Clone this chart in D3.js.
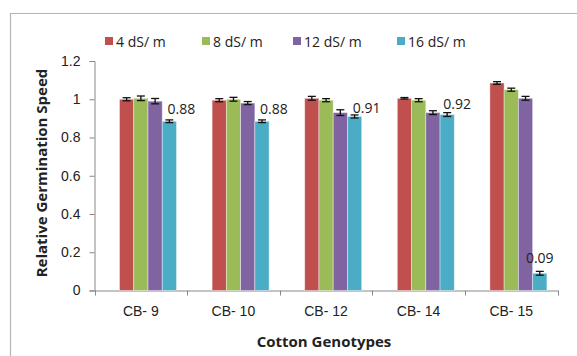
<!DOCTYPE html>
<html>
<head>
<meta charset="utf-8">
<script src="https://cdn.jsdelivr.net/npm/d3@7"></script>
<style>
  body { margin: 0; background: #fff; }
  svg { display: block; font-family: "Open Sans", sans-serif; }
  .axis path, .axis line { stroke: #888; }
  .axis text { font-size: 14px; fill: #222; }
</style>
</head>
<body>
<script>
(function(){

    //chart data
    var genotypes = ["CB- 9", "CB- 10", "CB- 12", "CB- 14", "CB- 15"];
    var salinity = ["4 dS/ m", "8 dS/ m", "12 dS/ m", "16 dS/ m"];
    var ds4  = [1.0, 0.995, 1.005, 1.005, 1.085];
    var ds8  = [1.005, 1.0, 0.995, 0.995, 1.05];
    var ds12 = [0.99, 0.98, 0.93, 0.93, 1.005];
    var ds16 = [0.885, 0.885, 0.91, 0.92, 0.09];
    //error bar half widths
    var err4  = [0.008, 0.008, 0.01, 0.004, 0.007];
    var err8  = [0.012, 0.01, 0.008, 0.008, 0.008];
    var err12 = [0.014, 0.008, 0.015, 0.01, 0.01];
    var err16 = [0.007, 0.007, 0.008, 0.01, 0.01];
    //data labels on the 16 dS/m bars
    var labels16 = ["0.88", "0.88", "0.91", "0.92", "0.09"];
    var yTicks = [0, 0.2, 0.4, 0.6, 0.8, 1, 1.2];

    var colors = ["#C0504D", "#9BBB59", "#8064A2", "#4BACC6"];
    var seriesVals = [ds4, ds8, ds12, ds16];
    var seriesErr = [err4, err8, err12, err16];

    var width = 577, height = 356;

    var svg = d3.select("body").append("svg")
        .attr("width", width)
        .attr("height", height);

    //outer chart frame (cropped on right and bottom)
    svg.append("path")
        .attr("d", "M10.5," + (height + 2) + "V13.5H" + (width + 2))
        .attr("fill", "none")
        .attr("stroke", "#b5b5b5")
        .attr("stroke-width", 1.2);

    var x = d3.scaleBand().domain(genotypes).range([94.5, 557.5]);
    //bars sit off-centre inside each category, as in the original
    var xs = d3.scaleBand().domain(salinity).range([25, 82]);
    var y = d3.scaleLinear().domain([0, 1.2]).range([290.5, 61]);

    //y axis
    svg.append("g")
        .attr("class", "axis")
        .attr("transform", "translate(94.5,0)")
        .call(d3.axisLeft(y).tickValues(yTicks).tickSize(5).tickPadding(9)
            .tickFormat(function(d){ return d3.format("")(d); }));

    //x axis line and category boundary ticks
    var xAxis = svg.append("g")
        .attr("class", "axis")
        .attr("transform", "translate(0,290.5)")
        .call(d3.axisBottom(x).tickSize(0).tickPadding(16));
    var bounds = genotypes.map(function(g){ return x(g); }).concat([x.range()[1]]);
    xAxis.selectAll(".bound")
        .data(bounds)
        .enter().append("line")
        .attr("class", "bound")
        .attr("x1", function(d){ return Math.round(d) + 0.5; })
        .attr("x2", function(d){ return Math.round(d) + 0.5; })
        .attr("y1", 0).attr("y2", 5);

    //bars
    var rows = [];
    genotypes.forEach(function(g, i){
        salinity.forEach(function(s, j){
            rows.push({g: g, s: s, j: j, v: seriesVals[j][i], e: seriesErr[j][i]});
        });
    });

    svg.append("g").selectAll("rect")
        .data(rows)
        .enter().append("rect")
        .attr("x", function(d){ return x(d.g) + xs(d.s); })
        .attr("y", function(d){ return y(d.v); })
        .attr("width", xs.bandwidth())
        .attr("height", function(d){ return y(0) - y(d.v); })
        .attr("fill", function(d){ return colors[d.j]; })
        .attr("stroke", "#fff")
        .attr("stroke-opacity", 0.5)
        .attr("stroke-width", 0.8);

    //error bars
    var eb = svg.append("g").attr("stroke", "#111").attr("stroke-width", 1.3);
    rows.forEach(function(d){
        var cx = x(d.g) + xs(d.s) + xs.bandwidth() / 2;
        eb.append("line").attr("x1", cx).attr("x2", cx)
            .attr("y1", y(d.v + d.e)).attr("y2", y(d.v - d.e));
        [d.v + d.e, d.v - d.e].forEach(function(v){
            eb.append("line").attr("x1", cx - 4).attr("x2", cx + 4)
                .attr("y1", y(v)).attr("y2", y(v));
        });
    });

    //data labels on 16 dS/m bars
    var labelDx = [12, 12, 12, 10, 0];
    var labelDy = [12, 12, 8, 11, 15];
    svg.append("g").selectAll("text")
        .data(labels16)
        .enter().append("text")
        .attr("x", function(d, i){ return x(genotypes[i]) + xs(salinity[3]) + xs.bandwidth() / 2 + labelDx[i]; })
        .attr("y", function(d, i){ return y(ds16[i]) - labelDy[i] + 5; })
        .attr("text-anchor", "middle")
        .attr("font-size", "14px")
        .attr("fill", "#222")
        .text(function(d){ return d; });

    //legend
    var legendX = [105, 202, 293, 397];
    var legend = svg.append("g").selectAll("g")
        .data(salinity)
        .enter().append("g")
        .attr("transform", function(d, i){ return "translate(" + legendX[i] + ",37)"; });
    legend.append("rect")
        .attr("width", 8).attr("height", 8)
        .attr("fill", function(d, i){ return colors[i]; });
    legend.append("text")
        .attr("x", 11).attr("y", 9.5)
        .attr("font-size", "14px")
        .attr("fill", "#222")
        .text(function(d){ return d; });

    //axis titles
    svg.append("text")
        .attr("x", 324).attr("y", 347)
        .attr("text-anchor", "middle")
        .attr("font-size", "15px")
        .attr("font-weight", "bold")
        .attr("fill", "#222")
        .text("Cotton Genotypes");

    svg.append("text")
        .attr("transform", "translate(47,173) rotate(-90)")
        .attr("text-anchor", "middle")
        .attr("font-size", "15px")
        .attr("font-weight", "bold")
        .attr("fill", "#222")
        .text("Relative Germination Speed");

})();
</script>
</body>
</html>
